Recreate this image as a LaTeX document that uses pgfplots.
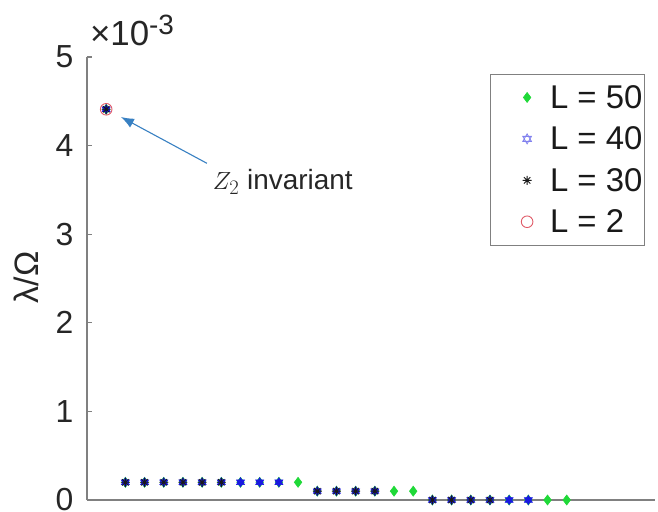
\documentclass[border=0pt]{standalone}
\usepackage{pgfplots}
\pgfplotsset{compat=1.18}
\usepackage{fontspec}
\setmainfont{Liberation Sans}
\usetikzlibrary{arrows.meta}

\definecolor{gL50}{rgb}{0.12,0.85,0.22}
\definecolor{bL40}{rgb}{0.10,0.10,0.88}
\definecolor{rL2}{rgb}{0.88,0.35,0.40}
\definecolor{arrowc}{rgb}{0.22,0.50,0.76}
\definecolor{axc}{rgb}{0.50,0.50,0.50}

\pgfdeclareplotmark{hexagram}{%
  \pgfpathmoveto{\pgfqpointpolar{90}{\pgfplotmarksize}}%
  \pgfpathlineto{\pgfqpointpolar{210}{\pgfplotmarksize}}%
  \pgfpathlineto{\pgfqpointpolar{330}{\pgfplotmarksize}}%
  \pgfpathclose
  \pgfpathmoveto{\pgfqpointpolar{30}{\pgfplotmarksize}}%
  \pgfpathlineto{\pgfqpointpolar{150}{\pgfplotmarksize}}%
  \pgfpathlineto{\pgfqpointpolar{270}{\pgfplotmarksize}}%
  \pgfpathclose
  \pgfusepathqfillstroke}
\pgfdeclareplotmark{hexagramo}{%
  \pgfpathmoveto{\pgfqpointpolar{90}{\pgfplotmarksize}}%
  \pgfpathlineto{\pgfqpointpolar{210}{\pgfplotmarksize}}%
  \pgfpathlineto{\pgfqpointpolar{330}{\pgfplotmarksize}}%
  \pgfpathclose
  \pgfpathmoveto{\pgfqpointpolar{30}{\pgfplotmarksize}}%
  \pgfpathlineto{\pgfqpointpolar{150}{\pgfplotmarksize}}%
  \pgfpathlineto{\pgfqpointpolar{270}{\pgfplotmarksize}}%
  \pgfpathclose
  \pgfusepathqstroke}
\pgfdeclareplotmark{mstar}{%
  \pgfpathmoveto{\pgfqpoint{-\pgfplotmarksize}{0pt}}\pgfpathlineto{\pgfqpoint{\pgfplotmarksize}{0pt}}%
  \pgfpathmoveto{\pgfqpoint{0pt}{-\pgfplotmarksize}}\pgfpathlineto{\pgfqpoint{0pt}{\pgfplotmarksize}}%
  \pgfpathmoveto{\pgfqpoint{-.707\pgfplotmarksize}{-.707\pgfplotmarksize}}\pgfpathlineto{\pgfqpoint{.707\pgfplotmarksize}{.707\pgfplotmarksize}}%
  \pgfpathmoveto{\pgfqpoint{-.707\pgfplotmarksize}{.707\pgfplotmarksize}}\pgfpathlineto{\pgfqpoint{.707\pgfplotmarksize}{-.707\pgfplotmarksize}}%
  \pgfusepathqstroke}

% values in units of 1e-3
\pgfplotstableread{
x y
1 4.41
2 0.2
3 0.2
4 0.2
5 0.2
6 0.2
7 0.2
8 0.2
9 0.2
10 0.2
11 0.2
12 0.1
13 0.1
14 0.1
15 0.1
16 0.1
17 0.1
18 0
19 0
20 0
21 0
22 0
23 0
24 0
25 0
}\LfiftyTable
\pgfplotstableread{
x y
1 4.41
2 0.2
3 0.2
4 0.2
5 0.2
6 0.2
7 0.2
8 0.2
9 0.2
10 0.2
12 0.1
13 0.1
14 0.1
15 0.1
18 0
19 0
20 0
21 0
22 0
23 0
}\LfortyTable
\pgfplotstableread{
x y
1 4.41
2 0.2
3 0.2
4 0.2
5 0.2
6 0.2
7 0.2
12 0.1
13 0.1
14 0.1
15 0.1
18 0
19 0
20 0
21 0
}\LthirtyTable
\pgfplotstableread{
x y
1 4.41
}\LtwoTable

\begin{document}
\begin{tikzpicture}
\begin{axis}[
  scale only axis,
  width=568bp, height=443bp,
  xmin=0, xmax=29.6,
  ymin=0, ymax=5,
  clip=false,
  axis x line*=bottom,
  axis y line*=left,
  axis line style={draw=axc, line width=1.2bp},
  xtick=\empty,
  ytick={0,1,2,3,4,5},
  tick style={draw=axc, line width=1.2bp},
  major tick length=5bp,
  tick align=inside,
  yticklabel style={font=\fontsize{32}{36}\selectfont, text=black!85, xshift=-10bp},
  /pgf/number format/assume math mode=true,
  ylabel={λ/Ω},
  ylabel style={font=\fontsize{34}{38}\selectfont, text=black!85, at={(axis description cs:-0.106,0.503)}, anchor=center},
  legend style={at={(axis description cs:0.982,0.962)}, anchor=north east,
    draw=black!50, line width=0.8bp, font=\fontsize{33}{36}\selectfont,
    row sep=13bp, inner xsep=0bp, inner ysep=9bp, text=black!90,
    /tikz/every odd column/.append style={column sep=12bp}},
  legend image code/.code={\path (-28bp,0pt) (0.6cm,0pt);
    \draw[mark repeat=2,mark phase=2,#1] plot coordinates {(0cm,0cm) (0.3cm,0cm) (0.6cm,0cm)};},
  legend cell align=left,
]
\addplot[only marks, mark=diamond*, mark size=5bp, draw=gL50, fill=gL50, line width=0.6bp] table[x=x,y=y] {\LfiftyTable};
\addlegendentry{L = 50}
\addplot[only marks, mark=hexagram, mark size=4.6bp, draw=bL40, fill=bL40, line width=0.6bp,
  legend image code/.code={\path (-28bp,0pt) (0.6cm,0pt);
    \draw[mark=hexagramo, mark size=5bp, draw=bL40!55, line width=0.8bp] plot coordinates {(0.3cm,0cm)};}] table[x=x,y=y] {\LfortyTable};
\addlegendentry{L = 40}
\addplot[only marks, mark=mstar, mark size=4.5bp, draw=black!90, line width=0.9bp] table[x=x,y=y] {\LthirtyTable};
\addlegendentry{L = 30}
\addplot[only marks, mark=o, mark size=5.8bp, draw=rL2, line width=0.9bp] table[x=x,y=y] {\LtwoTable};
\addlegendentry{L = 2}
\draw[arrowc, line width=1.1bp, -{Latex[length=13bp,width=10bp]}] (axis cs:6.25,3.80) -- (axis cs:1.77,4.323);
\node[anchor=base, font=\fontsize{28}{30}\selectfont, text=black!85] at (axis cs:10.2,3.50) {$Z_2$ invariant};
\node[anchor=base west, font=\fontsize{35}{37}\selectfont, text=black!85, inner sep=0pt] at (rel axis cs:0.005,1.027) {×10\raisebox{11bp}{\fontsize{28}{30}\selectfont -3}};
\end{axis}
\pgfresetboundingbox
\path (-87bp,-12bp) rectangle (571bp,500bp);
\end{tikzpicture}
\end{document}
